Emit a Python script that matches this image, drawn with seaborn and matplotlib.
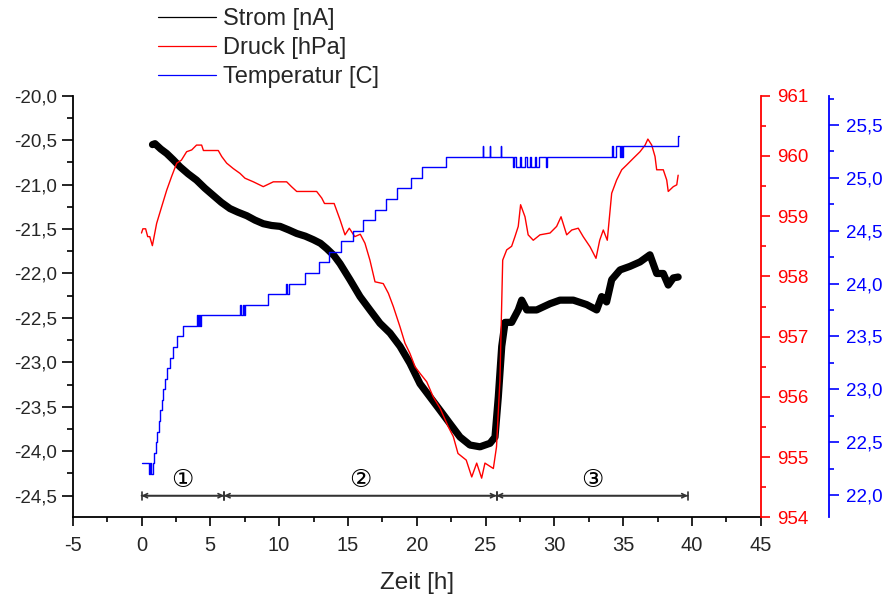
import numpy as np
import pandas as pd
import matplotlib
matplotlib.use("Agg")
import matplotlib.pyplot as plt
from matplotlib.ticker import MultipleLocator, FuncFormatter
from matplotlib.lines import Line2D
import seaborn as sns

# ---------------- data ----------------
strom_t = [0.8, 0.98, 1.4, 1.83, 2.3, 2.8, 3.4, 4.0, 4.6, 5.2, 5.8, 6.43, 7.0, 7.65,
           8.25, 8.85, 9.45, 10.07, 10.7, 11.28, 11.9, 12.49, 13.0, 13.46, 14.0, 14.43,
           15.15, 15.88, 16.6, 17.33, 18.06, 18.79, 19.51, 20.24, 20.97, 21.7, 22.42,
           23.15, 23.87, 24.6, 25.33, 25.69, 25.93, 26.18, 26.42, 26.9, 27.38, 27.63,
           28.0, 28.72, 29.69, 30.41, 31.38, 32.35, 33.08, 33.44, 33.8, 34.17, 34.78,
           35.5, 36.23, 36.95, 37.44, 37.92, 38.28, 38.65, 39.0]
strom_v = [-20.55, -20.54, -20.60, -20.65, -20.72, -20.80, -20.88, -20.95, -21.04, -21.12,
           -21.20, -21.27, -21.31, -21.35, -21.40, -21.44, -21.46, -21.47, -21.51, -21.55,
           -21.58, -21.62, -21.66, -21.72, -21.80, -21.89, -22.07, -22.26, -22.41, -22.56,
           -22.67, -22.82, -23.01, -23.24, -23.39, -23.54, -23.69, -23.84, -23.93, -23.95,
           -23.91, -23.84, -23.39, -22.82, -22.55, -22.55, -22.41, -22.30, -22.41, -22.41,
           -22.34, -22.30, -22.30, -22.35, -22.41, -22.26, -22.32, -22.07, -21.96, -21.92,
           -21.87, -21.79, -22.00, -22.00, -22.13, -22.05, -22.04]

druck_t = [0.0, 0.1, 0.3, 0.45, 0.6, 0.79, 1.1, 1.47, 1.83, 2.19, 2.56, 2.9, 3.28, 3.65,
           4.0, 4.37, 4.5, 5.58, 5.83, 6.19, 6.67, 7.16, 7.52, 8.13, 8.85, 9.58, 10.55,
           10.9, 11.28, 12.73, 13.1, 13.3, 14.0, 14.43, 14.79, 15.1, 15.5, 15.9, 16.24,
           16.6, 16.97, 17.57, 17.94, 18.3, 18.79, 19.15, 19.51, 19.88, 20.24, 20.73,
           21.2, 21.7, 22.3, 22.66, 23.0, 23.6, 24.0, 24.36, 24.72, 24.96, 25.57, 25.8,
           26.05, 26.25, 26.54, 26.9, 27.14, 27.38, 27.55, 27.87, 28.1, 28.47, 28.96,
           29.69, 30.17, 30.49, 30.9, 31.27, 31.74, 32.1, 32.6, 33.03, 33.3, 33.56, 33.85,
           34.17, 34.53, 34.9, 35.26, 35.74, 36.23, 36.6, 36.8, 37.08, 37.32, 37.44,
           37.92, 38.17, 38.28, 38.65, 38.9, 39.0]
druck_v = [958.72, 958.79, 958.79, 958.66, 958.66, 958.51, 958.88, 959.16, 959.43, 959.66,
           959.88, 959.93, 960.07, 960.10, 960.18, 960.18, 960.09, 960.09, 959.99, 959.88,
           959.79, 959.71, 959.63, 959.57, 959.49, 959.57, 959.57, 959.49, 959.41, 959.41,
           959.30, 959.21, 959.21, 958.94, 958.69, 958.80, 958.66, 958.70, 958.55, 958.27,
           957.91, 957.88, 957.72, 957.50, 957.16, 956.89, 956.72, 956.50, 956.39, 956.25,
           956.00, 955.81, 955.50, 955.34, 955.06, 954.95, 954.67, 954.90, 954.65, 954.90,
           954.81, 955.17, 956.28, 958.27, 958.44, 958.50, 958.66, 958.83, 959.19, 958.99,
           958.69, 958.60, 958.69, 958.72, 958.83, 958.99, 958.69, 958.77, 958.80, 958.66,
           958.49, 958.30, 958.60, 958.77, 958.60, 959.38, 959.60, 959.77, 959.85, 959.96,
           960.07, 960.18, 960.28, 960.18, 959.99, 959.77, 959.77, 959.60, 959.41, 959.49,
           959.52, 959.68]

temp_t = [0.0, 0.55, 0.62, 0.66, 0.80, 0.93, 1.02, 1.12, 1.24, 1.35, 1.47, 1.58, 1.72,
          1.88, 2.05, 2.30, 2.56, 2.99, 4.05, 4.12, 4.20, 4.27, 4.35, 7.15, 7.25, 7.35,
          7.45, 7.55, 9.2, 10.5, 10.6, 10.7, 11.9, 12.9, 13.65, 14.5, 15.35, 16.1, 17.0,
          17.8, 18.6, 19.6, 20.4, 22.1, 24.8, 24.85, 25.3, 25.35, 26.1, 26.15, 27.0,
          27.1, 27.2, 27.5, 27.6, 27.9, 28.0, 28.2, 28.3, 28.6, 28.7, 28.9, 29.4, 29.5,
          34.2, 34.3, 34.45, 34.8, 34.85, 34.95, 35.0, 39.0, 39.05]
temp_v = [22.3, 22.2, 22.3, 22.2, 22.3, 22.4, 22.5, 22.6, 22.7, 22.8, 22.9, 23.0, 23.1,
          23.2, 23.3, 23.4, 23.5, 23.6, 23.7, 23.6, 23.7, 23.6, 23.7, 23.8, 23.7, 23.8,
          23.7, 23.8, 23.9, 24.0, 23.9, 24.0, 24.1, 24.2, 24.3, 24.4, 24.5, 24.6, 24.7,
          24.8, 24.9, 25.0, 25.1, 25.2, 25.3, 25.2, 25.3, 25.2, 25.3, 25.2, 25.1,
          25.2, 25.1, 25.2, 25.1, 25.2, 25.1, 25.2, 25.1, 25.2, 25.1, 25.2, 25.1, 25.2,
          25.3, 25.2, 25.3, 25.2, 25.3, 25.2, 25.3, 25.4, 25.4]

series_labels = ["Strom [nA]", "Druck [hPa]", "Temperatur [C]"]
phase_bounds = [0.0, 6.0, 25.8, 39.7]
phase_labels = ["\u2460", "\u2461", "\u2462"]
x_label = "Zeit [h]"

# ---------------- style ----------------
sns.set_style("ticks")
plt.rcParams["font.family"] = ["Liberation Sans", "DejaVu Sans"]

fig = plt.figure(figsize=(8.89, 5.97), dpi=100)
L, R, B, T = 72.7 / 889, 760.7 / 889, 1 - 517.3 / 597, 1 - 95.7 / 597
ax = fig.add_axes([L, B, R - L, T - B])
ax2 = ax.twinx()
ax3 = ax.twinx()

df_s = pd.DataFrame({"t": strom_t, "v": strom_v})
df_d = pd.DataFrame({"t": druck_t, "v": druck_v})
df_T = pd.DataFrame({"t": temp_t, "v": temp_v})

sns.lineplot(data=df_s, x="t", y="v", ax=ax, color="black", lw=5.2,
             estimator=None, sort=False, legend=False, solid_joinstyle="round")
sns.lineplot(data=df_d, x="t", y="v", ax=ax2, color="#ff0000", lw=1.0,
             estimator=None, sort=False, legend=False)
sns.lineplot(data=df_T, x="t", y="v", ax=ax3, color="#0000ff", lw=1.0,
             estimator=None, sort=False, legend=False, drawstyle="steps-post")

comma = lambda fmt: FuncFormatter(lambda v, p: (fmt % v).replace(".", ","))

# main axis
ax.set_xlim(-5, 45)
ax.set_ylim(-24.743, -20.0)
ax.xaxis.set_major_locator(MultipleLocator(5))
ax.xaxis.set_minor_locator(MultipleLocator(2.5))
ax.yaxis.set_major_locator(MultipleLocator(0.5))
ax.yaxis.set_minor_locator(MultipleLocator(0.25))
ax.yaxis.set_major_formatter(comma("%.1f"))
ax.xaxis.set_major_formatter(FuncFormatter(lambda v, p: "%d" % v))
ax.set_xlabel(x_label, fontsize=17.5, labelpad=12)
ax.set_ylabel("")
for s in ["top", "right"]:
    ax.spines[s].set_visible(False)
for s in ["left", "bottom"]:
    ax.spines[s].set_linewidth(1.3)
    ax.spines[s].set_color("black")
ax.tick_params(axis="y", which="major", direction="out", length=8, width=1.2,
               labelsize=13.5, pad=3.5, color="black")
ax.tick_params(axis="y", which="minor", direction="out", length=4.3, width=1.2, color="black")
ax.tick_params(axis="x", which="major", direction="out", length=6.5, width=1.2,
               labelsize=14.5, pad=7, color="black")
ax.tick_params(axis="x", which="minor", direction="out", length=3.5, width=1.2, color="black")

# pressure axis
ax2.set_ylim(954, 961)
ax2.yaxis.set_major_locator(MultipleLocator(1))
ax2.yaxis.set_minor_locator(MultipleLocator(0.5))
ax2.yaxis.set_major_formatter(FuncFormatter(lambda v, p: "%d" % v))
ax2.set_ylabel("")
for s in ["top", "left", "bottom"]:
    ax2.spines[s].set_visible(False)
ax2.spines["right"].set_color("#ff0000")
ax2.spines["right"].set_linewidth(1.3)
ax2.tick_params(axis="y", which="major", direction="out", length=6.5, width=1.2,
                colors="#ff0000", labelsize=13.5, pad=5)
ax2.tick_params(axis="y", which="minor", direction="out", length=3.3, width=1.2,
                colors="#ff0000")

# temperature axis
ax3.set_ylim(21.789, 25.777)
ax3.yaxis.set_major_locator(MultipleLocator(0.5))
ax3.yaxis.set_minor_locator(MultipleLocator(0.25))
ax3.yaxis.set_major_formatter(comma("%.1f"))
ax3.set_ylabel("")
for s in ["top", "left", "bottom"]:
    ax3.spines[s].set_visible(False)
ax3.spines["right"].set_position(("outward", 49.4))
ax3.spines["right"].set_color("#0000ff")
ax3.spines["right"].set_linewidth(1.3)
ax3.tick_params(axis="y", which="major", direction="out", length=7, width=1.2,
                colors="#0000ff", labelsize=13.5, pad=5)
ax3.tick_params(axis="y", which="minor", direction="out", length=3.6, width=1.2,
                colors="#0000ff")

# phase markers
y_bar = -24.5
y_txt = -24.32
for i in range(3):
    a, b = phase_bounds[i], phase_bounds[i + 1]
    ax.annotate("", xy=(b, y_bar), xytext=(a, y_bar),
                arrowprops=dict(arrowstyle="|-|,widthA=0.28,widthB=0.28",
                                lw=1.2, color="#333333", shrinkA=0, shrinkB=0))
    ax.annotate("", xy=(b, y_bar), xytext=(a, y_bar),
                arrowprops=dict(arrowstyle="<->,head_length=0.3,head_width=0.15",
                                lw=1.2, color="#333333", shrinkA=0, shrinkB=0))
    ax.text((a + b) / 2, y_txt, phase_labels[i], ha="center", va="center",
            fontsize=18, family=["DejaVu Sans"], color="black")

# legend
handles = [Line2D([], [], color="black", lw=0.9),
           Line2D([], [], color="#ff0000", lw=0.9),
           Line2D([], [], color="#0000ff", lw=0.9)]
fig.legend(handles, series_labels, loc="upper left",
           bbox_to_anchor=(158 / 889, 1 - 8 / 597), frameon=False, fontsize=17,
           handlelength=2.45, handletextpad=0.3, labelspacing=0.3,
           borderpad=0, borderaxespad=0)

fig.savefig("out.png", dpi=100)
